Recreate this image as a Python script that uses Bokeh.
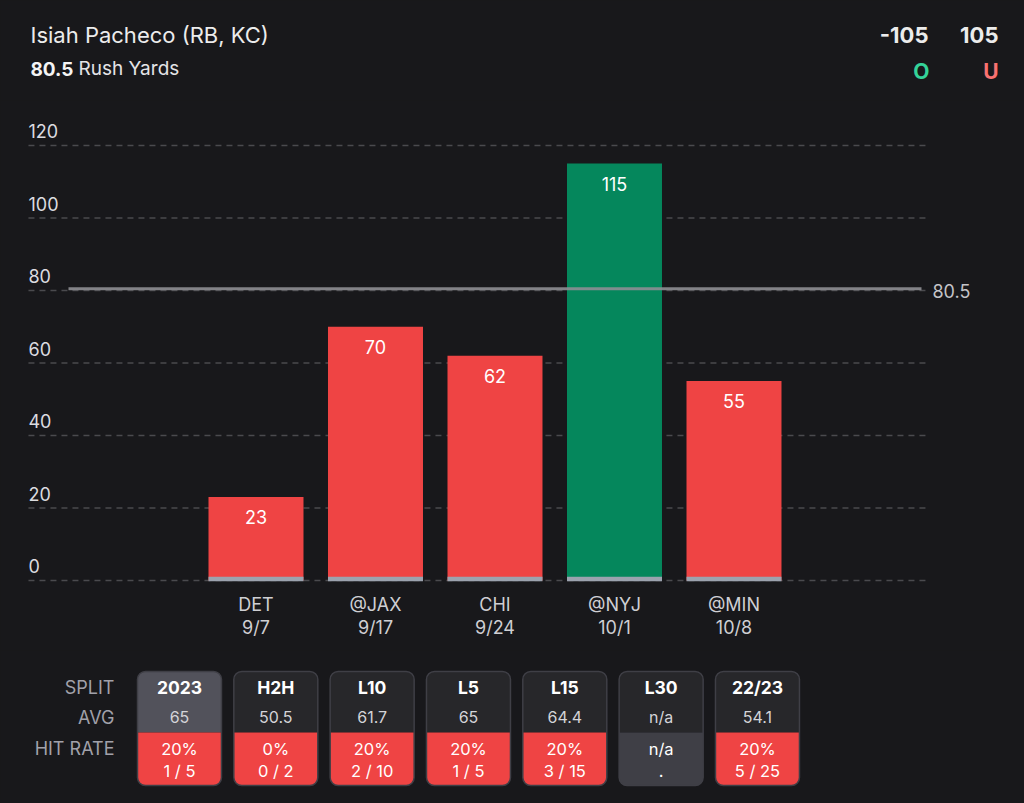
from bokeh.plotting import figure
from bokeh.layouts import column
from bokeh.models import Range1d, ColumnDataSource
from bokeh.core.properties import value
from bokeh.embed import file_html
from bokeh.resources import INLINE

# ---------------- data ----------------
player = "Isiah Pacheco (RB, KC)"
prop_line = 80.5
prop_name = "Rush Yards"
over_odds = "-105"
under_odds = "105"

opponents = ["DET", "@JAX", "CHI", "@NYJ", "@MIN"]
dates = ["9/7", "9/17", "9/24", "10/1", "10/8"]
rush_yards = [23, 70, 62, 115, 55]
y_ticks = [0, 20, 40, 60, 80, 100, 120]

split_labels = ["2023", "H2H", "L10", "L5", "L15", "L30", "22/23"]
split_avg = ["65", "50.5", "61.7", "65", "64.4", "n/a", "54.1"]
hit_pct = ["20%", "0%", "20%", "20%", "20%", "n/a", "20%"]
hit_frac = ["1 / 5", "0 / 2", "2 / 10", "1 / 5", "3 / 15", ".", "5 / 25"]
row_labels = ["SPLIT", "AVG", "HIT RATE"]

# ---------------- style ----------------
BG = "#18181b"
RED = "#ef4444"
GREEN = "#05875c"
FONT = value("Inter")
W = 1024


def base_fig(h, xr, yr):
    p = figure(width=W, height=h, x_range=xr, y_range=yr, toolbar_location=None,
               output_backend="svg", x_axis_type=None, y_axis_type=None,
               min_border=0, background_fill_color=BG, border_fill_color=BG,
               outline_line_color=None)
    p.grid.visible = False
    return p


# ---------------- header ----------------
hdr = base_fig(100, Range1d(0, W), Range1d(100, 0))
hdr.text(x=[30], y=[34], text=[player], text_font=FONT, text_font_size="22px",
         text_color="#ececec", text_baseline="middle", text_align="left")
hdr.text(x=[30], y=[68], text=[f"{prop_line}"], text_font=FONT, text_font_size="19px",
         text_font_style="bold", text_color="#f4f4f5", text_baseline="middle")
hdr.text(x=[78], y=[68], text=[prop_name], text_font=FONT, text_font_size="19px",
         text_color="#e4e4e7", text_baseline="middle")
hdr.text(x=[928, 998], y=[34, 34], text=[over_odds, under_odds], text_font=FONT,
         text_font_size="22px", text_font_style="bold", text_color="#ececec",
         text_baseline="middle", text_align="right")
hdr.text(x=[929, 998], y=[71, 71], text=["O", "U"], text_font=FONT,
         text_font_size="21px", text_font_style="bold", text_color=["#34d399", "#f87171"],
         text_baseline="middle", text_align="right")

# ---------------- chart ----------------
# one category unit = 119.5 px, first bar centre at 255.5 px
chart = base_fig(550, Range1d(-2.138, 6.431), Range1d(-19.31, 132.41))
xs = list(range(len(rush_yards)))
colors = [GREEN if v > prop_line else RED for v in rush_yards]

grid_x0, grid_x1 = -1.904, 5.603
chart.segment(x0=[grid_x0] * len(y_ticks), x1=[grid_x1] * len(y_ticks), y0=y_ticks, y1=y_ticks,
              line_color="#4a4a4e", line_width=1.3, line_dash="6 5")
chart.text(x=[grid_x0] * len(y_ticks), y=y_ticks, text=[str(t) for t in y_ticks], text_font=FONT,
           text_font_size="18px", text_color="#dcdce0", text_baseline="middle",
           text_align="left", y_offset=-14)

src = ColumnDataSource(dict(x=xs, top=rush_yards, color=colors,
                            lab=[str(v) for v in rush_yards], opp=opponents, date=dates))
chart.vbar(x="x", top="top", bottom=0, width=0.795, fill_color="color", line_color=None, source=src)
chart.vbar(x="x", top=1.0, bottom=-0.2, width=0.795, fill_color="#9ca3af", line_color=None, source=src)

chart.segment(x0=[-1.569], x1=[5.569], y0=[prop_line], y1=[prop_line], line_color="#8e8e93",
              line_width=3, line_alpha=0.9)
chart.text(x=[5.661], y=[prop_line], text=[f"{prop_line}"], text_font=FONT, text_font_size="18px",
           text_color="#c4c4c8", text_baseline="middle", text_align="left", y_offset=2)

chart.text(x="x", y="top", text="lab", source=src, text_font=FONT, text_font_size="18px",
           text_color="#ffffff", text_baseline="middle", text_align="center", y_offset=20)
chart.text(x="x", y=0, text="opp", source=src, text_font=FONT, text_font_size="18px",
           text_color="#cfcfd3", text_baseline="middle", text_align="center", y_offset=24)
chart.text(x="x", y=0, text="date", source=src, text_font=FONT, text_font_size="18px",
           text_color="#cfcfd3", text_baseline="middle", text_align="center", y_offset=47)

# ---------------- splits table ----------------
# one card unit = 96.33 px, first card centre at 179 px; y in px from top of this strip
tbl = base_fig(153, Range1d(-1.858, 8.772), Range1d(153, 0))
n = len(split_labels)
cx = list(range(n))
hw = 0.436
card_top, card_mid, card_bot = 21, 82, 135
top_fill = ["#52525b" if i == 0 else "#27272a" for i in range(n)]
bot_fill = ["#3f3f46" if p == "n/a" else RED for p in hit_pct]
tsrc = ColumnDataSource(dict(l=[i - hw for i in cx], r=[i + hw for i in cx], x=cx,
                             tf=top_fill, bf=bot_fill, split=split_labels, avg=split_avg,
                             pct=hit_pct, frac=hit_frac))
tbl.quad(left="l", right="r", top=card_top, bottom=card_mid, fill_color="tf", line_color=None,
         border_radius=(8, 8, 0, 0), source=tsrc)
tbl.quad(left="l", right="r", top=card_mid, bottom=card_bot, fill_color="bf", line_color=None,
         border_radius=(0, 0, 8, 8), source=tsrc)
tbl.quad(left="l", right="r", top=card_top, bottom=card_bot, fill_color=None, line_color="#3f3f46",
         line_width=1.5, border_radius=8, source=tsrc)

tbl.text(x=[-0.675] * 3, y=[37, 67, 98], text=row_labels, text_font=FONT, text_font_size="18px",
         text_color="#a1a1aa", text_baseline="middle", text_align="right")
tbl.text(x="x", y=37, text="split", source=tsrc, text_font=FONT, text_font_size="17.5px",
         text_font_style="bold", text_color="#ffffff", text_baseline="middle", text_align="center")
tbl.text(x="x", y=66, text="avg", source=tsrc, text_font=FONT, text_font_size="16px",
         text_color="#d4d4d8", text_baseline="middle", text_align="center")
tbl.text(x="x", y=98, text="pct", source=tsrc, text_font=FONT, text_font_size="16.5px",
         text_color="#ffffff", text_baseline="middle", text_align="center")
tbl.text(x="x", y=120, text="frac", source=tsrc, text_font=FONT, text_font_size="16.5px",
         text_color="#ffffff", text_baseline="middle", text_align="center")

layout = column(hdr, chart, tbl, spacing=0, styles={"background-color": BG})
open("out.html", "w").write(file_html(layout, INLINE))
